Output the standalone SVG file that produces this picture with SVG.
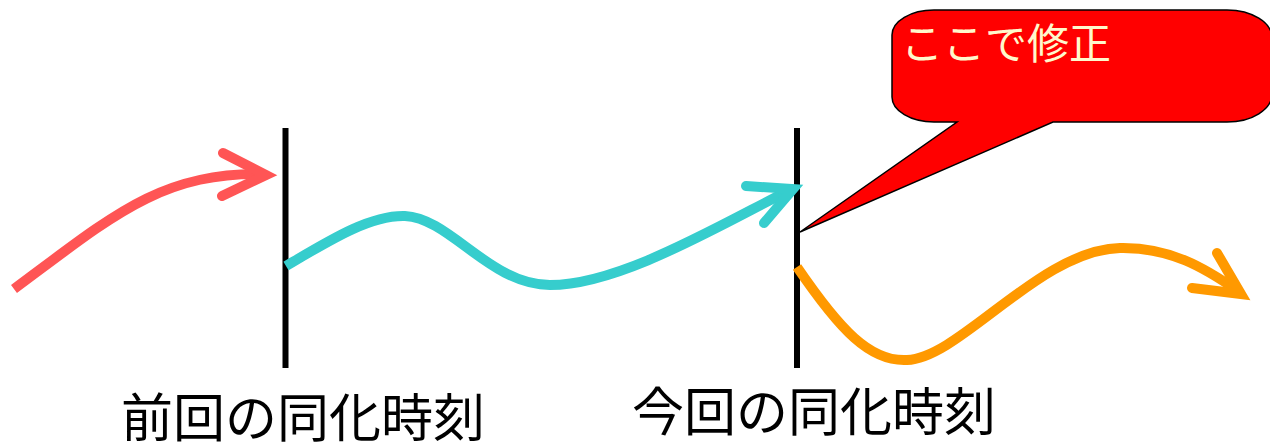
<svg xmlns="http://www.w3.org/2000/svg" width="1270" height="443" viewBox="0 0 1270 443">
<style>
.lbl{font-family:"Noto Sans CJK JP","Noto Sans CJK SC",sans-serif;font-size:52px;fill:#000}
.co{font-family:"Noto Sans CJK JP","Noto Sans CJK SC",sans-serif;font-size:42px;fill:#FFF8CC}
.tl{stroke:#000;stroke-width:6;fill:none}
.cv{fill:none;stroke-width:10}
.ah{fill:none;stroke-width:10;stroke-linecap:round;stroke-linejoin:miter}
</style>
<rect width="1270" height="443" fill="#fff"/>
<g id="line-prev"><line class="tl" x1="285.5" y1="128" x2="285.5" y2="368"/></g>
<g id="line-now"><line class="tl" x1="797" y1="128" x2="797" y2="368"/></g>
<g id="connectors">
<path class="cv" stroke="#FF5555" d="M14,289 C110,218 160,172 262,174"/>
<polyline class="ah" stroke="#FF5555" points="223,153 266,175 222,196"/>
<path class="cv" stroke="#36CDCD" d="M286,266 C330,240 370,215 405,216 C450,218 490,285 550,285 C620,285 720,225 790,190"/>
<polyline class="ah" stroke="#36CDCD" points="746,186 793,189 764,223"/>
<path class="cv" stroke="#FF9900" d="M797,267 C840,330 870,362 907,360 C960,358 1040,250 1120,248 C1170,247 1205,268 1238,291"/>
<polyline class="ah" stroke="#FF9900" points="1217,253 1241,294 1192,288"/>
</g>
<g id="callout">
<path d="M934,10 H1227 A45,28 0 0 1 1272,38 V94 A45,28 0 0 1 1227,122 H1053 L800,232 L957,122 H934 A42,25 0 0 1 892,97 V35 A42,25 0 0 1 934,10 Z" fill="#FF0000" stroke="#000" stroke-width="1.5"/>
<text class="co" x="901" y="59">ここで修正</text>
</g>
<g id="label-prev"><text class="lbl" x="121" y="437">前回の同化時刻</text></g>
<g id="label-now"><text class="lbl" x="632" y="431">今回の同化時刻</text></g>
</svg>
